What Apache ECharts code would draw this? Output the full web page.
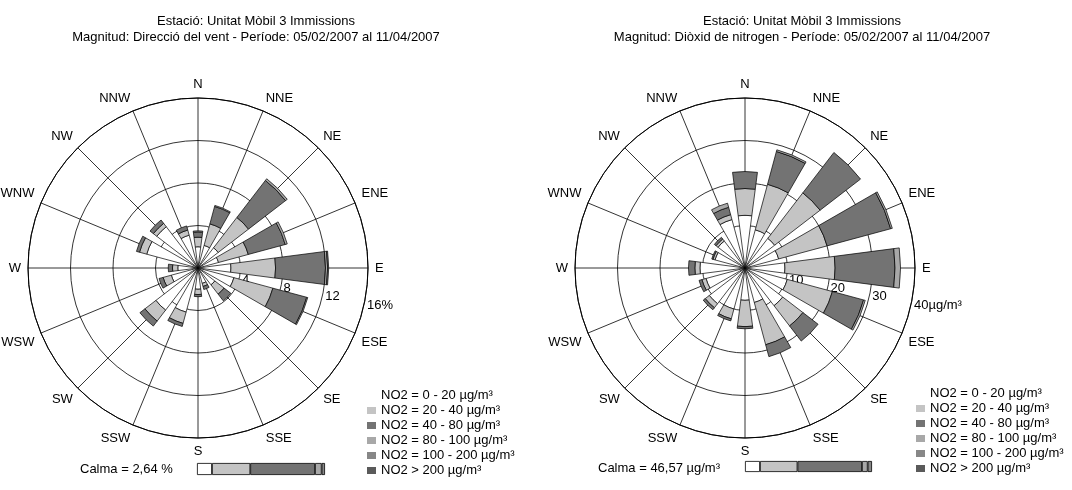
<!DOCTYPE html>
<html><head><meta charset="utf-8">
<script src="https://cdn.jsdelivr.net/npm/echarts@6/dist/echarts.min.js"></script>
<style>html,body{margin:0;padding:0;background:#fff}#c{width:1072px;height:490px}</style>
</head><body><div id="c"></div>
<script>
// ---- data (directions clockwise from N) ----
const directions = ['N','NNE','NE','ENE','E','ESE','SE','SSE','S','SSW','SW','WSW','W','WNW','NW','NNW'];
const classNames = ['NO2 = 0 - 20 µg/m³','NO2 = 20 - 40 µg/m³','NO2 = 40 - 80 µg/m³','NO2 = 80 - 100 µg/m³','NO2 = 100 - 200 µg/m³','NO2 > 200 µg/m³'];

// Left rose: frequency (%) by direction, split by NO2 class
const freqClass1 = [2.0, 2.2, 2.4, 2.0, 3.1, 3.5, 2.0, 1.5, 2.0, 4.3, 5.0, 2.6, 1.9, 5.0, 4.9, 3.2];
const freqClass2 = [0.9, 2.1, 3.6, 2.9, 4.2, 3.8, 1.1, 0.3, 0.5, 1.1, 1.3, 0.8, 0.5, 0.7, 0.4, 0.5];
const freqClass3 = [0.5, 1.7, 4.4, 3.6, 4.7, 3.3, 0.8, 0.3, 0.2, 0.3, 0.6, 0.4, 0.4, 0.3, 0.4, 0.4];
const freqClass4 = [0.1, 0.1, 0.2, 0.2, 0.2, 0.1, 0, 0, 0, 0, 0, 0, 0, 0, 0, 0];
const freqClass5 = [0, 0, 0, 0, 0.1, 0, 0, 0, 0, 0, 0, 0, 0, 0, 0, 0];
const freqClass6 = [0, 0, 0, 0, 0, 0, 0, 0, 0, 0, 0, 0, 0, 0, 0, 0];

// Right rose: NO2 (µg/m³) by direction, split by NO2 class
const no2Class1 = [12.4, 9.3, 8.8, 8.2, 9.4, 10.3, 11.2, 8.4, 7.6, 10.0, 10.6, 9.5, 10.6, 7.3, 8.0, 11.8];
const no2Class2 = [6.3, 11.1, 13.5, 11.8, 11.8, 11.0, 6.0, 10.3, 6.2, 2.4, 1.2, 1.0, 1.2, 0.5, 0.6, 1.2];
const no2Class3 = [4.0, 8.0, 12.0, 15.5, 14.1, 7.6, 4.5, 2.9, 0.5, 0.5, 0.6, 0.7, 1.5, 0.3, 0.5, 1.8];
const no2Class4 = [0, 0.4, 0, 0.4, 1.3, 0.4, 0, 0, 0, 0, 0, 0, 0, 0, 0, 1.0];
const no2Class5 = [0, 0, 0, 0, 0, 0, 0, 0, 0, 0, 0, 0, 0, 0, 0, 0];
const no2Class6 = [0, 0, 0, 0, 0, 0, 0, 0, 0, 0, 0, 0, 0, 0, 0, 0];

// Calm share by class (%)
const calmaLeft  = [11.7, 29.9, 50.6, 5.2, 2.6, 0];
const calmaRight = [11.8, 29.5, 50.8, 4.5, 3.4, 0];

const leftTicks = [0, 4, 8, 12, 16];
const rightTicks = [0, 10, 20, 30, 40];

const titleLeft1 = 'Estació: Unitat Mòbil 3 Immissions';
const titleLeft2 = 'Magnitud: Direcció del vent - Període: 05/02/2007 al 11/04/2007';
const titleRight1 = 'Estació: Unitat Mòbil 3 Immissions';
const titleRight2 = 'Magnitud: Diòxid de nitrogen - Període: 05/02/2007 al 11/04/2007';
const calmaLeftText = 'Calma = 2,64 %';
const calmaRightText = 'Calma = 46,57 µg/m³';

// ---- styling ----
const FONT = '"Liberation Sans", Arial, sans-serif';
const classColors = ['#ffffff', '#c4c4c4', '#737373', '#a8a8a8', '#878787', '#5a5a5a'];

// start the angle axis at the E/ESE boundary so the radius labels sit just below E
const rot = a => a.slice(5).concat(a.slice(0, 5));
const nz = a => a.map(v => v === 0 ? '-' : v);

const leftSets = [freqClass1, freqClass2, freqClass3, freqClass4, freqClass5, freqClass6];
const rightSets = [no2Class1, no2Class2, no2Class3, no2Class4, no2Class5, no2Class6];

function angleAxis(idx) {
  return {
    polarIndex: idx, type: 'category', data: rot(directions), startAngle: -11.25, clockwise: true,
    boundaryGap: true,
    axisLine: { show: true, lineStyle: { color: '#000', width: 1 } },
    axisTick: { show: false, alignWithLabel: true },
    splitLine: { show: true, lineStyle: { color: '#000', width: 0.8 } },
    axisLabel: { interval: 0, margin: 7, color: '#000', fontSize: 13, fontFamily: FONT }
  };
}
function radiusAxis(idx, ticks, unitLabel) {
  const max = ticks[ticks.length - 1];
  return {
    polarIndex: idx, type: 'value', min: 0, max: max, interval: ticks[1] - ticks[0],
    axisLine: { show: false }, axisTick: { show: false },
    splitLine: { show: true, lineStyle: { color: '#000', width: 0.8 } },
    axisLabel: {
      margin: -4, align: 'left', verticalAlign: 'middle', padding: [0, 0, 0, 3],
      color: '#000', fontSize: 13, fontFamily: FONT,
      formatter: v => v === 0 ? '' : (v === max ? v + unitLabel : String(v))
    }
  };
}

const series = [];
leftSets.forEach((arr, i) => series.push({
  name: classNames[i], type: 'bar', coordinateSystem: 'polar', polarIndex: 0, stack: 'left',
  barCategoryGap: '34%', data: nz(rot(arr)),
  itemStyle: { color: classColors[i], borderColor: '#000', borderWidth: 0.7 }
}));
rightSets.forEach((arr, i) => series.push({
  name: classNames[i], type: 'bar', coordinateSystem: 'polar', polarIndex: 1, stack: 'right',
  barCategoryGap: '34%', data: nz(rot(arr)),
  itemStyle: { color: classColors[i], borderColor: '#000', borderWidth: 0.7 }
}));
[calmaLeft, calmaRight].forEach((arr, g) => arr.forEach((v, i) => series.push({
  name: classNames[i], type: 'bar', xAxisIndex: g, yAxisIndex: g, stack: 'calma' + g,
  barWidth: '100%', data: [v === 0 ? '-' : v],
  itemStyle: { color: classColors[i], borderColor: '#000', borderWidth: 0.8 }
})));

const legendCommon = {
  orient: 'vertical', data: classNames, icon: 'rect', itemWidth: 9, itemHeight: 7, itemGap: 0,
  padding: 0, selectedMode: false, itemStyle: { borderWidth: 0 },
  textStyle: { fontSize: 13, lineHeight: 15, color: '#000', fontFamily: FONT }
};

const option = {
  animation: false,
  backgroundColor: '#fff',
  polar: [
    { center: [198, 268], radius: 170 },
    { center: [745, 268], radius: 170 }
  ],
  angleAxis: [angleAxis(0), angleAxis(1)],
  radiusAxis: [radiusAxis(0, leftTicks, '%'), radiusAxis(1, rightTicks, 'µg/m³')],
  grid: [
    { left: 197, top: 463, width: 128, height: 12 },
    { left: 745, top: 461, width: 127, height: 11 }
  ],
  xAxis: [
    { gridIndex: 0, type: 'value', min: 0, max: 100, show: false },
    { gridIndex: 1, type: 'value', min: 0, max: 100, show: false }
  ],
  yAxis: [
    { gridIndex: 0, type: 'category', data: ['Calma'], show: false },
    { gridIndex: 1, type: 'category', data: ['Calma'], show: false }
  ],
  legend: [
    Object.assign({ left: 367, top: 388 }, legendCommon),
    Object.assign({ left: 916, top: 386 }, legendCommon)
  ],
  graphic: [
    { type: 'text', x: 256, y: 21, style: { text: titleLeft1, font: '13px ' + FONT, fill: '#000', textAlign: 'center', textVerticalAlign: 'middle' } },
    { type: 'text', x: 256, y: 37, style: { text: titleLeft2, font: '13px ' + FONT, fill: '#000', textAlign: 'center', textVerticalAlign: 'middle' } },
    { type: 'text', x: 802, y: 21, style: { text: titleRight1, font: '13px ' + FONT, fill: '#000', textAlign: 'center', textVerticalAlign: 'middle' } },
    { type: 'text', x: 802, y: 37, style: { text: titleRight2, font: '13px ' + FONT, fill: '#000', textAlign: 'center', textVerticalAlign: 'middle' } },
    { type: 'text', x: 80, y: 469, style: { text: calmaLeftText, font: '13px ' + FONT, fill: '#000', textAlign: 'left', textVerticalAlign: 'middle' } },
    { type: 'text', x: 598, y: 468, style: { text: calmaRightText, font: '13px ' + FONT, fill: '#000', textAlign: 'left', textVerticalAlign: 'middle' } }
  ],
  series: series
};

const chart = echarts.init(document.getElementById('c'), null, { renderer: 'canvas' });
chart.setOption(option);
</script>
</body></html>
